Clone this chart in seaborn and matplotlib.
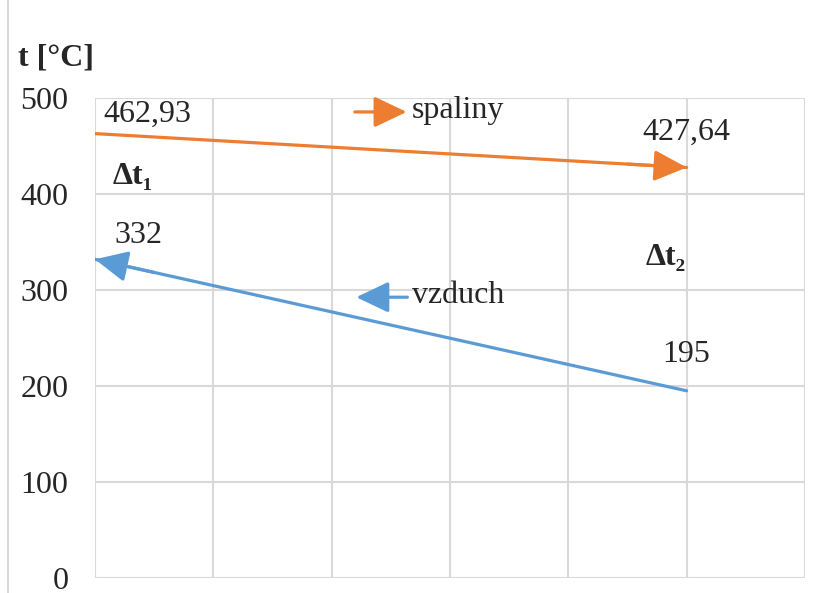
import pandas as pd
import matplotlib.pyplot as plt
import seaborn as sns
from matplotlib.lines import Line2D

# data
x_spaliny = [0, 5]
t_spaliny = [462.93, 427.64]
x_vzduch = [5, 0]
t_vzduch = [195, 332]
labels_spaliny = ['462,93', '427,64']
labels_vzduch = ['195', '332']
yticks = [0, 100, 200, 300, 400, 500]

orange = '#ED7D31'
blue = '#5B9BD5'
grid_c = '#d9d9d9'

df = pd.DataFrame({
    'x': x_spaliny + x_vzduch,
    't': t_spaliny + t_vzduch,
    'medium': ['spaliny'] * 2 + ['vzduch'] * 2,
})

sns.set_style('white')
plt.rcParams['font.family'] = ['Liberation Serif', 'DejaVu Serif']
fs = 23
plt.rcParams['font.size'] = fs

fig = plt.figure(figsize=(8.26, 5.93), dpi=100)
ax = fig.add_axes([0.115, 0.0253, 0.8595, 0.8094])

sns.lineplot(data=df, x='x', y='t', hue='medium', sort=False,
             palette={'spaliny': orange, 'vzduch': blue},
             linewidth=2.3, legend=False, ax=ax)

ax.set_xlim(0, 6)
ax.set_ylim(0, 500)
ax.set_xticks(range(7))
ax.set_xticklabels([])
ax.set_yticks(yticks)
ax.tick_params(axis='both', length=0, labelsize=fs, pad=19)
ax.grid(True, color=grid_c, linewidth=1.5)
for s in ax.spines.values():
    s.set_visible(False)
ax.set_xlabel('')
ax.set_ylabel('')

head = '-|>,head_length=0.8,head_width=0.38'


def arrow_end(xs, ys, color):
    # arrowhead at the last point of the series
    x0, x1 = xs[-2], xs[-1]
    y0, y1 = ys[-2], ys[-1]
    f = 0.1
    ax.annotate('', xy=(x1, y1), xytext=(x1 - (x1 - x0) * f, y1 - (y1 - y0) * f),
                arrowprops=dict(arrowstyle=head, color=color, lw=2.3,
                                mutation_scale=25, shrinkA=0, shrinkB=0))


arrow_end(x_spaliny, t_spaliny, orange)
arrow_end(x_vzduch, t_vzduch, blue)

# value labels
ax.annotate(labels_spaliny[0], (x_spaliny[0], t_spaliny[0]), xytext=(38, 14),
            textcoords='offset points', ha='center', va='center')
ax.annotate(labels_spaliny[1], (x_spaliny[1], t_spaliny[1]), xytext=(0, 25),
            textcoords='offset points', ha='center', va='center')
ax.annotate(labels_vzduch[0], (x_vzduch[0], t_vzduch[0]), xytext=(0, 26),
            textcoords='offset points', ha='center', va='center')
ax.annotate(labels_vzduch[1], (x_vzduch[1], t_vzduch[1]), xytext=(31, 17),
            textcoords='offset points', ha='center', va='center')

# delta t marks
ax.text(0.32, 418, 'Δt₁', fontweight='bold', ha='center', va='center')
ax.text(4.82, 334, 'Δt₂', fontweight='bold', ha='center', va='center')

# arrow "legend"
ax.annotate('', xy=(0.439, 0.971), xytext=(0.366, 0.971), xycoords='axes fraction',
            arrowprops=dict(arrowstyle=head, color=orange, lw=2.3,
                            mutation_scale=25, shrinkA=0, shrinkB=0))
ax.text(0.446, 0.975, 'spaliny', transform=ax.transAxes, ha='left', va='center')
ax.annotate('', xy=(0.368, 0.585), xytext=(0.44, 0.585), xycoords='axes fraction',
            arrowprops=dict(arrowstyle=head, color=blue, lw=2.3,
                            mutation_scale=25, shrinkA=0, shrinkB=0))
ax.text(0.446, 0.589, 'vzduch', transform=ax.transAxes, ha='left', va='center')

# axis title
fig.text(0.022, 0.902, 't [°C]', fontweight='bold', ha='left', va='center', fontsize=fs)

# outer chart border on the left
fig.add_artist(Line2D([8 / 826, 8 / 826], [0, 1], color=grid_c, lw=1.5))

fig.savefig('out.png', dpi=100)
